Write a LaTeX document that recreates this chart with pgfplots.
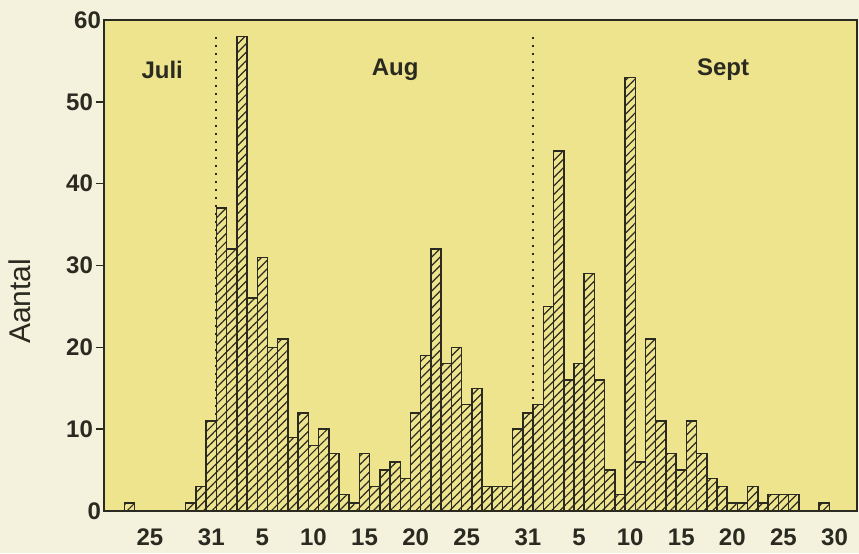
\documentclass[border=0pt]{standalone}
\usepackage{pgfplots}
\pgfplotsset{compat=1.18}
\usepackage{fontspec}
\setmainfont{Liberation Sans}
\usetikzlibrary{patterns.meta}
\definecolor{paper}{RGB}{244,241,220}
\definecolor{plotbg}{RGB}{238,228,142}
\definecolor{ink}{RGB}{42,42,32}

% daily counts, day = day number counted from 1 July (32 = 1 Aug, 63 = 1 Sept)
\pgfplotstableread{
day n
23 1
24 0
25 0
26 0
27 0
28 0
29 1
30 3
31 11
32 37
33 32
34 58
35 26
36 31
37 20
38 21
39 9
40 12
41 8
42 10
43 7
44 2
45 1
46 7
47 3
48 5
49 6
50 4
51 12
52 19
53 32
54 18
55 20
56 13
57 15
58 3
59 3
60 3
61 10
62 12
63 13
64 25
65 44
66 16
67 18
68 29
69 16
70 5
71 2
72 53
73 6
74 21
75 11
76 7
77 5
78 11
79 7
80 4
81 3
82 1
83 1
84 3
85 1
86 2
87 2
88 2
89 0
90 0
91 1
}\counts

\begin{document}
\begin{tikzpicture}
\fill[paper] (-52pt,-21pt) rectangle (377.5pt,255.5pt);
\begin{axis}[
    scale only axis,
    width=376.5pt, height=245.5pt,
    xmin=20.5, xmax=94.2,
    ymin=0, ymax=60,
    axis background/.style={fill=plotbg},
    axis line style={ink, line width=0.9pt},
    xtick={25,31,36,41,46,51,56,62,67,72,77,82,87,92},
    xticklabels={25,31,5,10,15,20,25,31,5,10,15,20,25,30},
    xtick style={draw=none},
    ytick={10,20,...,50},
    extra y ticks={0,60},
    extra y tick style={major tick length=0pt},
    ytick style={ink, line width=0.8pt},
    tick align=outside,
    major tick length=4pt,
    xtick pos=bottom, ytick pos=left,
    /pgf/number format/assume math mode=true,
    tick label style={font=\fontsize{12}{14}\selectfont\bfseries, text=ink},
    xticklabel style={yshift=-1.5pt},
    yticklabel style={xshift=2pt},
    ylabel={Aantal},
    ylabel style={font=\fontsize{15}{18}\selectfont, text=ink,
        at={(axis description cs:-0.112,0.427)}, anchor=center},
]
\addplot[ink, dash pattern=on 0.8pt off 3.2pt, line width=0.9pt] coordinates {(31.5,0) (31.5,58)};
\addplot[ink, dash pattern=on 0.8pt off 3.2pt, line width=0.9pt] coordinates {(62.5,0) (62.5,58.3)};
\addplot[ybar, bar width=1, draw=ink, line width=0.75pt, fill=plotbg,
    postaction={pattern color=ink, pattern={Lines[angle=45,distance=3pt,line width=0.6pt]}}]
    table[x=day, y=n] {\counts};
\node[font=\fontsize{12}{14}\selectfont\bfseries, text=ink] at (axis cs:26.2,53.9) {Juli};
\node[font=\fontsize{12}{14}\selectfont\bfseries, text=ink] at (axis cs:49,53.9) {Aug};
\node[font=\fontsize{12}{14}\selectfont\bfseries, text=ink] at (axis cs:81.1,53.9) {Sept};
\end{axis}
\pgfresetboundingbox
\path[use as bounding box] (-52pt,-21pt) rectangle (377.5pt,255.5pt);
\end{tikzpicture}
\end{document}
